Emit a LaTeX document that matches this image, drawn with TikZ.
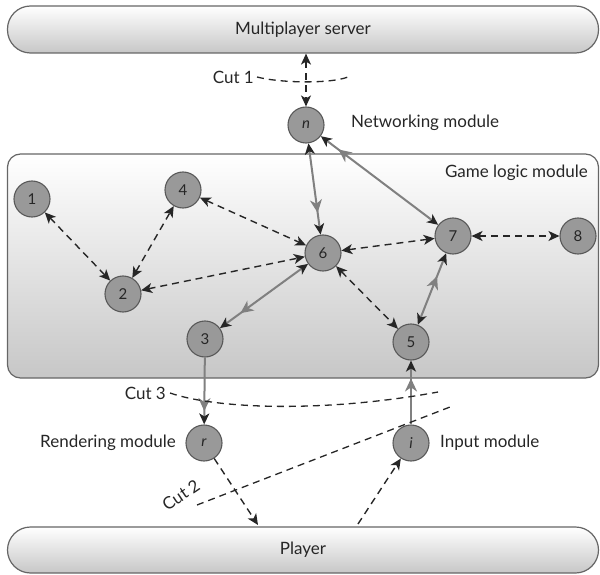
\documentclass[tikz,border=0pt]{standalone}
\usepackage{fontspec}
\setmainfont{Lato}
\usetikzlibrary{arrows.meta,decorations.markings}

\begin{document}
\begin{tikzpicture}[x=1pt,y=-1pt,
  every node/.style={font=\fontsize{17}{18}\selectfont, text=black!85},
  label text/.style={inner sep=0pt},
  bar/.style={draw=black!60, line width=1.2pt, rounded corners=23pt,
    top color=white, bottom color=black!22, minimum width=591pt, inner sep=0pt},
  area/.style={draw=black!60, line width=1.2pt, rounded corners=13pt,
    top color=white, bottom color=black!22, minimum width=591pt, inner sep=0pt},
  module/.style={circle, draw=black!65, fill=black!40, line width=1.1pt,
    minimum size=36pt, inner sep=0pt, font=\fontsize{15}{15}\selectfont},
  darr/.tip={Stealth[length=11pt,width=10pt,inset=3pt,black!85]},
  garr/.tip={Stealth[length=13pt,width=12pt,inset=4pt,black!50]},
  link/.style={dash pattern=on 7pt off 5pt, line width=1.4pt, black!85, darr-darr},
  oneway/.style={dash pattern=on 7pt off 5pt, line width=1.4pt, black!85, -darr},
  flow/.style={line width=2pt, black!50, darr-darr},
  flowin/.style={line width=2pt, black!50, -darr},
  gray head/.style={postaction={decorate}, decoration={markings,
    mark=at position #1 with {\arrow{garr}}}},
  cut/.style={dash pattern=on 7pt off 5pt, line width=1.3pt, black!85},
]
\useasboundingbox (0,0) rectangle (600,575);

% Outer boxes
\node[bar, minimum height=47pt] (server) at (303,29.5) {Multiplayer server};
\node[area, minimum height=224pt] (game) at (303,266) {};
\node[label text, anchor=east] (gamelabel) at (588,173) {Game logic module};
\node[bar, minimum height=46pt] (player) at (303,550) {Player};

% Modules
\node[module] (n) at (306,125) {\itshape n};
\node[module] (m1) at (32,199) {1};
\node[module] (m4) at (183,190) {4};
\node[module] (m2) at (123,294) {2};
\node[module] (m6) at (323,253) {6};
\node[module] (m7) at (453,236) {7};
\node[module] (m8) at (578,236) {8};
\node[module] (m3) at (205,339) {3};
\node[module] (m5) at (411,342) {5};
\node[module] (r) at (204,443) {\itshape r};
\node[module] (i) at (411,443) {\itshape i};

\node[label text, anchor=west] (netlabel) at (351,123) {Networking module};
\node[label text, anchor=east] (renlabel) at (176,443) {Rendering module};
\node[label text, anchor=west] (inlabel) at (440,443) {Input module};

% Dashed dependencies inside the game logic
\draw[link] (m1) -- (m2);
\draw[link] (m2) -- (m4);
\draw[link] (m4) -- (m6);
\draw[link] (m2) -- (m6);
\draw[link] (m6) -- (m7);
\draw[link] (m7) -- (m8);
\draw[link] (m6) -- (m5);

% Server link
\coordinate (sv) at (server.south -| n);
\draw[link] (sv) -- (n);

% Data flow (solid grey)
\draw[flow, gray head=0.76] (n) -- (m6);
\draw[flow, gray head=0.85] (m7) -- (n);
\draw[flow, gray head=0.77] (m6) -- (m3);
\draw[flow, gray head=0.68] (m5) -- (m7);
\draw[flowin, gray head=0.8] (m3) -- (r);
\draw[flowin, gray head=0.72] (i) -- (m5);

% Player links
\coordinate (pr) at (258,525);
\coordinate (pi) at (358,524);
\draw[oneway] (r) -- (pr);
\draw[oneway] (pi) -- (i);

% Cuts
\node[label text, anchor=east] (c1) at (254,77) {Cut 1};
\draw[cut] (257,77) .. controls (280,83) and (330,84) .. (348,77);
\node[label text, anchor=east] (c3) at (166,393) {Cut 3};
\draw[cut] (170,393) .. controls (220,410) and (330,412) .. (438,392);
\coordinate (c2a) at (197,505);
\coordinate (c2b) at (450,407);
\draw[cut] (c2a) -- (c2b);
\node[label text, rotate=34] (c2) at (181,495) {Cut 2};
\end{tikzpicture}
\end{document}
